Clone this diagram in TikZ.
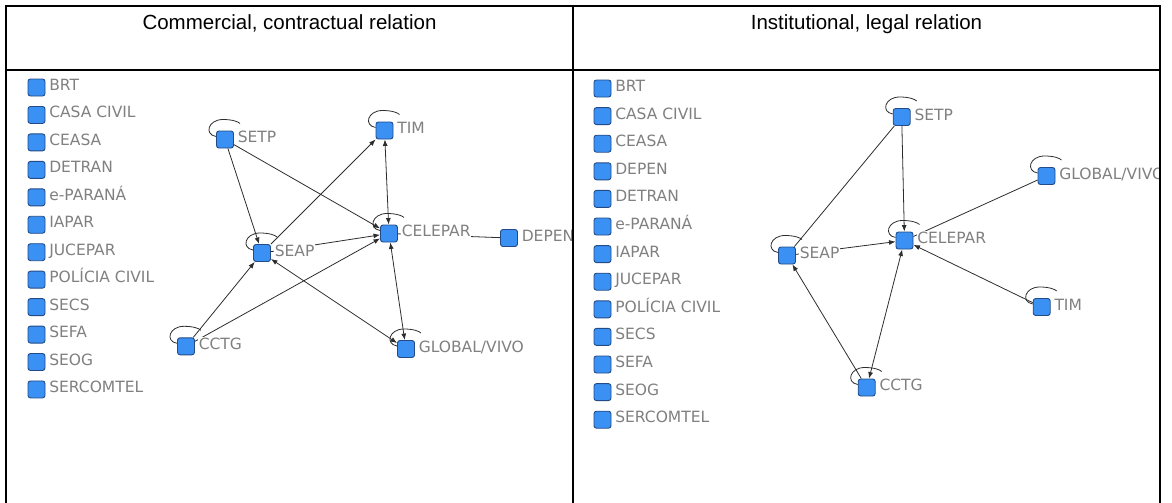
\documentclass[tikz,border=0pt]{standalone}
\usepackage{fontspec}
\setmainfont{Liberation Sans}
\newfontfamily\labfont{DejaVu Sans}
\usetikzlibrary{calc,arrows.meta}
\definecolor{nodefill}{RGB}{58,145,243}
\definecolor{nodedraw}{RGB}{35,75,135}
\definecolor{labgray}{RGB}{128,128,128}
\definecolor{edgegray}{RGB}{45,45,45}
\tikzset{
 sq/.style={rectangle, rounded corners=2.5pt, minimum size=17pt, inner sep=0pt, fill=nodefill, draw=nodedraw, line width=0.9pt},
 lab/.style={anchor=base west, inner sep=0.6pt, fill=white, text=labgray, font=\labfont\fontsize{15.5}{18}\selectfont},
 conn/.style={draw=edgegray, line width=0.8pt},
 arr/.style={conn, -{Latex[length=6.5pt,width=5pt]}},
 arrb/.style={conn, {Latex[length=6.5pt,width=5pt]}-{Latex[length=6.5pt,width=5pt]}},
 loopl/.style={draw=edgegray, line width=0.8pt},
 frame/.style={line width=2pt, draw=black},
 head/.style={anchor=base, font=\fontsize{20.5}{24}\selectfont, inner sep=0pt}
}
\newcommand{\nodeloop}[1]{\draw[loopl] ($(#1)+(-9,-3)$) .. controls ($(#1)+(-21,-5)$) and ($(#1)+(-17,-20)$) .. ($(#1)+(-2,-20)$) .. controls ($(#1)+(7,-20)$) and ($(#1)+(13,-18)$) .. ($(#1)+(15,-16)$);}
\newcommand{\nodelab}[2]{\node[lab] (#1-t) at ($(#1)+(12,3)$) {#2};}
\begin{document}
\begin{tikzpicture}[x=1pt,y=-1pt]
\useasboundingbox (0,0) rectangle (1172,503);
% headers
\node[head] (h1) at (289.5,30) {Commercial, contractual relation};
\node[head] (h2) at (866.5,30) {Institutional, legal relation};
% ---------- left panel ----------
\foreach \t [count=\i] in {BRT,CASA CIVIL,CEASA,DETRAN,e-PARANÁ,IAPAR,JUCEPAR,POLÍCIA CIVIL,SECS,SEFA,SEOG,SERCOMTEL}{
  \node[sq] (L-i\i) at (36.5,{87.5+(\i-1)*27.45}) {};
  \node[lab] (L-i\i-t) at ($(L-i\i)+(12,3)$) {\t};
}
\node[sq] (L-setp) at (225,139.5) {};
\node[sq] (L-tim) at (384.5,130.5) {};
\node[sq] (L-celepar) at (389,233.5) {};
\node[sq] (L-seap) at (262,253) {};
\node[sq] (L-cctg) at (186,346.3) {};
\node[sq] (L-global) at (406,349) {};
\node[sq] (L-depen) at (509,238) {};
\draw[arr] (L-setp) -- (L-seap);
\draw[arr] (L-setp) -- (L-celepar);
\draw[arr] (L-seap) -- (L-tim);
\draw[arrb] (L-tim) -- (L-celepar);
\draw[arr] (L-seap) -- (L-celepar);
\draw[arr] (L-cctg) -- (L-seap);
\draw[arr] (L-cctg) -- (L-celepar);
\draw[arrb] (L-seap) -- (L-global);
\draw[arrb] (L-celepar) -- (L-global);
\draw[conn] (L-celepar) -- (L-depen);
\nodeloop{L-setp}
\nodeloop{L-tim}
\nodeloop{L-celepar}
\nodeloop{L-seap}
\nodeloop{L-cctg}
\nodeloop{L-global}
\nodelab{L-setp}{SETP}
\nodelab{L-tim}{TIM}
\nodelab{L-celepar}{CELEPAR}
\nodelab{L-seap}{SEAP}
\nodelab{L-cctg}{CCTG}
\nodelab{L-global}{GLOBAL/VIVO}
\nodelab{L-depen}{DEPEN}
% ---------- right panel ----------
\begin{scope}
\clip (574,71) rectangle (1159,503);
\foreach \t [count=\i] in {BRT,CASA CIVIL,CEASA,DEPEN,DETRAN,e-PARANÁ,IAPAR,JUCEPAR,POLÍCIA CIVIL,SECS,SEFA,SEOG,SERCOMTEL}{
  \node[sq] (R-i\i) at (602.5,{88.5+(\i-1)*27.6}) {};
  \node[lab] (R-i\i-t) at ($(R-i\i)+(12,3)$) {\t};
}
\node[sq] (R-setp) at (901.7,117) {};
\node[sq] (R-global) at (1046.5,176) {};
\node[sq] (R-celepar) at (904.5,240.5) {};
\node[sq] (R-seap) at (787,255.5) {};
\node[sq] (R-tim) at (1041.7,307) {};
\node[sq] (R-cctg) at (866.7,387.5) {};
\draw[conn] (R-setp) -- (R-seap);
\draw[arr] (R-setp) -- (R-celepar);
\draw[conn] (R-celepar) -- (R-global);
\draw[arr] (R-seap) -- (R-celepar);
\draw[arrb] (R-cctg) -- (R-celepar);
\draw[arr] (R-cctg) -- (R-seap);
\draw[arr] (R-tim) -- (R-celepar);
\nodeloop{R-setp}
\nodeloop{R-global}
\nodeloop{R-celepar}
\nodeloop{R-seap}
\nodeloop{R-tim}
\nodeloop{R-cctg}
\nodelab{R-setp}{SETP}
\nodelab{R-global}{GLOBAL/VIVO}
\nodelab{R-celepar}{CELEPAR}
\nodelab{R-seap}{SEAP}
\nodelab{R-tim}{TIM}
\nodelab{R-cctg}{CCTG}
\end{scope}
% frame
\draw[frame] (6,515) -- (6,6) -- (1160,6) -- (1160,515);
\draw[frame] (573,6) -- (573,515);
\draw[frame] (6,70) -- (1160,70);
\end{tikzpicture}
\end{document}
